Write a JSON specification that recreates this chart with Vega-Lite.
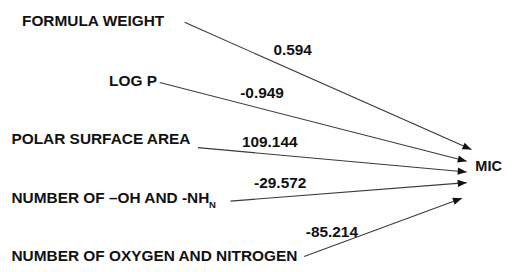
{
  "$schema": "https://vega.github.io/schema/vega-lite/v6.json",
  "width": 526,
  "height": 272,
  "autosize": {"type": "fit", "contains": "padding"},
  "padding": 0,
  "background": "white",
  "config": {"view": {"stroke": null}},
  "datasets": {
    "paths": [
      {"label": "FORMULA WEIGHT", "lx": 23, "ly": 22, "sx": 193, "sy": 23, "tx": 493, "ty": 154, "coef": "0.594", "cx": 306, "cy": 51},
      {"label": "LOG P", "lx": 114, "ly": 83, "sx": 167, "sy": 85, "tx": 488, "ty": 166, "coef": "-0.949", "cx": 274, "cy": 96},
      {"label": "POLAR SURFACE AREA", "lx": 12, "ly": 143, "sx": 207, "sy": 152, "tx": 488, "ty": 177, "coef": "109.144", "cx": 282, "cy": 146},
      {"label": "NUMBER OF \u2013OH AND -NH", "lx": 12, "ly": 204, "sx": 241, "sy": 207, "tx": 488, "ty": 188, "coef": "-29.572", "cx": 293, "cy": 188},
      {"label": "NUMBER OF OXYGEN AND NITROGEN", "lx": 12, "ly": 264, "sx": 318, "sy": 264, "tx": 483, "ty": 204, "coef": "-85.214", "cx": 347, "cy": 239}
    ],
    "extra": [
      {"text": "MIC", "x": 497, "y": 172, "size": 14.5},
      {"text": "N", "x": 218.5, "y": 211, "size": 9.5}
    ]
  },
  "layer": [
    {
      "data": {"name": "paths"},
      "mark": {"type": "rule", "color": "#3a3a3a", "strokeWidth": 1.1},
      "encoding": {
        "x": {"field": "sx", "type": "quantitative", "scale": {"domain": [0, 526]}, "axis": null},
        "y": {"field": "sy", "type": "quantitative", "scale": {"domain": [0, 272], "reverse": true}, "axis": null},
        "x2": {"field": "tx"},
        "y2": {"field": "ty"}
      }
    },
    {
      "data": {"name": "paths"},
      "transform": [{"calculate": "atan2(datum.ty - datum.sy, datum.tx - datum.sx) * 180 / PI", "as": "ang"}],
      "mark": {"type": "point", "shape": "M0,0L-2,-0.8L-2,0.8Z", "filled": true, "color": "#111111", "opacity": 1, "size": 81},
      "encoding": {
        "x": {"field": "tx", "type": "quantitative"},
        "y": {"field": "ty", "type": "quantitative"},
        "angle": {"field": "ang", "type": "quantitative", "scale": null}
      }
    },
    {
      "data": {"name": "paths"},
      "mark": {"type": "text", "align": "left", "baseline": "middle", "font": "Liberation Sans", "fontWeight": "bold", "fontSize": 15.4, "color": "#111111"},
      "encoding": {
        "x": {"field": "lx", "type": "quantitative"},
        "y": {"field": "ly", "type": "quantitative"},
        "text": {"field": "label"}
      }
    },
    {
      "data": {"name": "paths"},
      "mark": {"type": "text", "align": "center", "baseline": "middle", "font": "Liberation Sans", "fontWeight": "bold", "fontSize": 15.4, "color": "#111111"},
      "encoding": {
        "x": {"field": "cx", "type": "quantitative"},
        "y": {"field": "cy", "type": "quantitative"},
        "text": {"field": "coef"}
      }
    },
    {
      "data": {"name": "extra"},
      "mark": {"type": "text", "align": "left", "baseline": "middle", "font": "Liberation Sans", "fontWeight": "bold", "color": "#111111"},
      "encoding": {
        "x": {"field": "x", "type": "quantitative"},
        "y": {"field": "y", "type": "quantitative"},
        "text": {"field": "text"},
        "size": {"field": "size", "type": "quantitative", "scale": null}
      }
    }
  ]
}
